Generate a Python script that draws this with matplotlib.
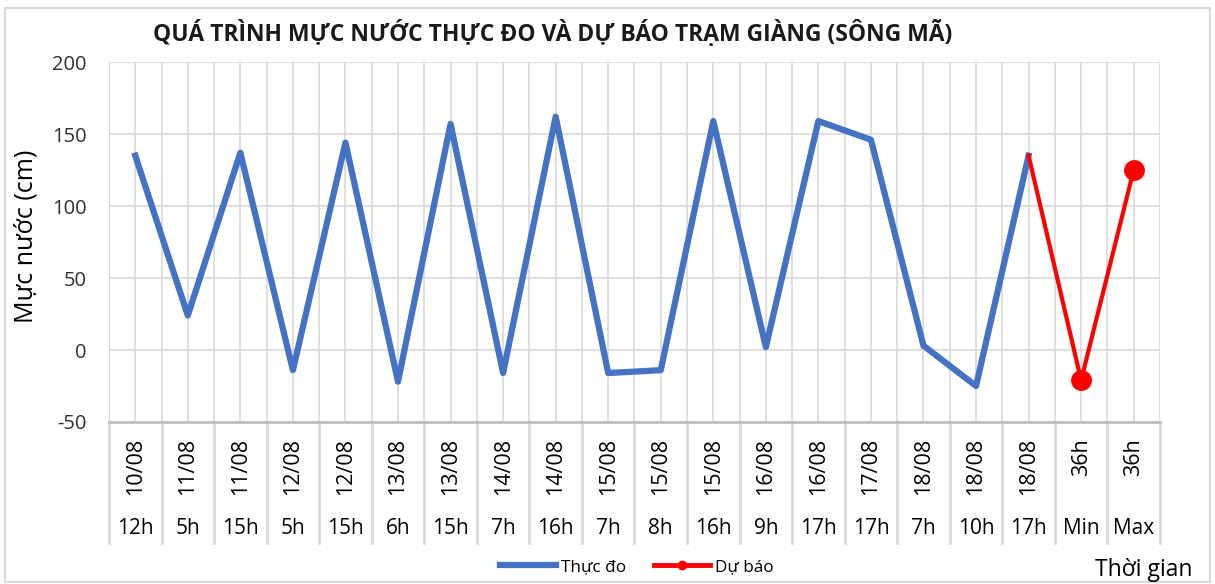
import numpy as np
import matplotlib.pyplot as plt
from matplotlib.lines import Line2D
from matplotlib.transforms import blended_transform_factory

plt.rcParams['font.family'] = ['Open Sans', 'DejaVu Sans']
plt.rcParams['axes.unicode_minus'] = False

dates = ['10/08', '11/08', '11/08', '12/08', '12/08', '13/08', '13/08', '14/08', '14/08', '15/08',
         '15/08', '15/08', '16/08', '16/08', '17/08', '18/08', '18/08', '18/08', '36h', '36h']
hours = ['12h', '5h', '15h', '5h', '15h', '6h', '15h', '7h', '16h', '7h',
         '8h', '16h', '9h', '17h', '17h', '7h', '10h', '17h', 'Min', 'Max']
thuc_do = [135, 24, 137, -14, 144, -22, 157, -16, 162, -16,
           -14, 159, 2, 159, 146, 3, -25, 135]
du_bao = [135, -21, 125]

fig = plt.figure(figsize=(12.15, 5.84), dpi=100)
ax = fig.add_axes([0.0897, 0.2774, 0.865, 0.6164])

n = len(hours)
x = np.arange(n)
ax.plot(x[:len(thuc_do)], thuc_do, color='#4472C4', lw=4.5, zorder=3)
ax.plot(x[len(thuc_do) - 1:], du_bao, color='#FF0000', lw=3, marker='o', markersize=14,
        markevery=[1, 2], zorder=4)

ax.set_xlim(-0.5, n - 0.5)
ax.set_ylim(-50, 200)
ax.set_yticks([-50, 0, 50, 100, 150, 200])
ax.tick_params(axis='y', length=0, labelsize=14.5, pad=16, labelcolor='#303030')
ax.set_xticks([])
for v in [0, 50, 100, 150, 200]:
    ax.axhline(v, color='#D9D9D9', lw=1.2, zorder=1)
for v in np.arange(-0.5, n, 0.5):
    ax.axvline(v, color='#D9D9D9', lw=1.2, zorder=1)
for s in ['top', 'right']:
    ax.spines[s].set_visible(False)
ax.spines['left'].set_color('#D9D9D9')
ax.spines['bottom'].set_color('#BFBFBF')
ax.spines['bottom'].set_linewidth(2)

tr = blended_transform_factory(ax.transData, ax.transAxes)
for i in range(n):
    ax.text(i, -0.045, dates[i], transform=tr, rotation=90, ha='center', va='top', fontsize=15.5)
    ax.text(i, -0.295, hours[i], transform=tr, ha='center', va='center', fontsize=15)
for v in np.arange(-0.5, n, 1.0):
    ax.plot([v, v], [0, -0.336], transform=tr, color='#D9D9D9', lw=2, clip_on=False)

fig.text(0.021, 0.595, 'Mực nước (cm)', rotation=90, ha='center', va='center', fontsize=18)
fig.text(0.455, 0.943, 'QUÁ TRÌNH MỰC NƯỚC THỰC ĐO VÀ DỰ BÁO TRẠM GIÀNG (SÔNG MÃ)',
         ha='center', va='center', fontsize=16.5, fontweight='bold', color='#1a1a1a')
fig.text(0.941, 0.024, 'Thời gian', ha='center', va='center', fontsize=16.5)

handles = [Line2D([], [], color='#4472C4', lw=4.5),
           Line2D([], [], color='#FF0000', lw=3.5, marker='o', markersize=6)]
fig.legend(handles, ['Thực đo', 'Dự báo'], loc='center', bbox_to_anchor=(0.524, 0.029), ncol=2,
           frameon=False, fontsize=12.3, handlelength=3.3, handletextpad=0.3, columnspacing=1.6)

fig.patches.append(plt.Rectangle((0.004, 0.004), 0.992, 0.982, transform=fig.transFigure,
                                 fill=False, edgecolor='#D9D9D9', lw=1.5))

fig.savefig('out.png', dpi=100)
